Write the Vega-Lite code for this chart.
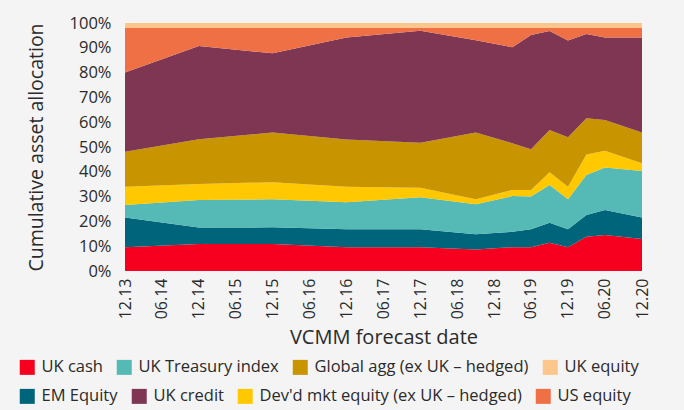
{
  "$schema": "https://vega.github.io/schema/vega-lite/v6.json",
  "width": 517,
  "height": 248,
  "autosize": {"type": "none"},
  "padding": {"left": 125, "top": 23, "right": 42, "bottom": 139},
  "background": "#f4f4f4",
  "config": {
    "view": {"stroke": null},
    "font": "Open Sans",
    "axis": {"labelColor": "#2a2a2a", "titleColor": "#2a2a2a", "titleFontWeight": "normal", "grid": false, "domain": false, "ticks": false},
    "legend": {"labelColor": "#2a2a2a"}
  },
  "data": {
    "values": [
      {"date": "2013-12-01", "series": "UK cash", "value": 9.6},
      {"date": "2013-12-01", "series": "EM Equity", "value": 12.0},
      {"date": "2013-12-01", "series": "UK Treasury index", "value": 5.0},
      {"date": "2013-12-01", "series": "Dev'd mkt equity (ex UK – hedged)", "value": 7.4},
      {"date": "2013-12-01", "series": "Global agg (ex UK – hedged)", "value": 14.1},
      {"date": "2013-12-01", "series": "UK credit", "value": 31.9},
      {"date": "2013-12-01", "series": "US equity", "value": 18.0},
      {"date": "2013-12-01", "series": "UK equity", "value": 2.0},

      {"date": "2014-12-01", "series": "UK cash", "value": 10.9},
      {"date": "2014-12-01", "series": "EM Equity", "value": 6.6},
      {"date": "2014-12-01", "series": "UK Treasury index", "value": 11.1},
      {"date": "2014-12-01", "series": "Dev'd mkt equity (ex UK – hedged)", "value": 6.5},
      {"date": "2014-12-01", "series": "Global agg (ex UK – hedged)", "value": 18.0},
      {"date": "2014-12-01", "series": "UK credit", "value": 37.6},
      {"date": "2014-12-01", "series": "US equity", "value": 7.3},
      {"date": "2014-12-01", "series": "UK equity", "value": 2.0},

      {"date": "2015-12-01", "series": "UK cash", "value": 10.9},
      {"date": "2015-12-01", "series": "EM Equity", "value": 6.7},
      {"date": "2015-12-01", "series": "UK Treasury index", "value": 11.3},
      {"date": "2015-12-01", "series": "Dev'd mkt equity (ex UK – hedged)", "value": 6.9},
      {"date": "2015-12-01", "series": "Global agg (ex UK – hedged)", "value": 20.0},
      {"date": "2015-12-01", "series": "UK credit", "value": 32.0},
      {"date": "2015-12-01", "series": "US equity", "value": 10.2},
      {"date": "2015-12-01", "series": "UK equity", "value": 2.0},

      {"date": "2016-12-01", "series": "UK cash", "value": 9.6},
      {"date": "2016-12-01", "series": "EM Equity", "value": 7.2},
      {"date": "2016-12-01", "series": "UK Treasury index", "value": 10.9},
      {"date": "2016-12-01", "series": "Dev'd mkt equity (ex UK – hedged)", "value": 6.3},
      {"date": "2016-12-01", "series": "Global agg (ex UK – hedged)", "value": 19.0},
      {"date": "2016-12-01", "series": "UK credit", "value": 41.2},
      {"date": "2016-12-01", "series": "US equity", "value": 3.8},
      {"date": "2016-12-01", "series": "UK equity", "value": 2.0},

      {"date": "2017-12-01", "series": "UK cash", "value": 9.6},
      {"date": "2017-12-01", "series": "EM Equity", "value": 7.2},
      {"date": "2017-12-01", "series": "UK Treasury index", "value": 12.9},
      {"date": "2017-12-01", "series": "Dev'd mkt equity (ex UK – hedged)", "value": 3.9},
      {"date": "2017-12-01", "series": "Global agg (ex UK – hedged)", "value": 18.1},
      {"date": "2017-12-01", "series": "UK credit", "value": 45.2},
      {"date": "2017-12-01", "series": "US equity", "value": 1.1},
      {"date": "2017-12-01", "series": "UK equity", "value": 2.0},

      {"date": "2018-09-01", "series": "UK cash", "value": 8.7},
      {"date": "2018-09-01", "series": "EM Equity", "value": 6.1},
      {"date": "2018-09-01", "series": "UK Treasury index", "value": 12.1},
      {"date": "2018-09-01", "series": "Dev'd mkt equity (ex UK – hedged)", "value": 2.0},
      {"date": "2018-09-01", "series": "Global agg (ex UK – hedged)", "value": 26.9},
      {"date": "2018-09-01", "series": "UK credit", "value": 37.2},
      {"date": "2018-09-01", "series": "US equity", "value": 5.0},
      {"date": "2018-09-01", "series": "UK equity", "value": 2.0},

      {"date": "2019-03-01", "series": "UK cash", "value": 9.6},
      {"date": "2019-03-01", "series": "EM Equity", "value": 6.2},
      {"date": "2019-03-01", "series": "UK Treasury index", "value": 14.4},
      {"date": "2019-03-01", "series": "Dev'd mkt equity (ex UK – hedged)", "value": 2.5},
      {"date": "2019-03-01", "series": "Global agg (ex UK – hedged)", "value": 18.8},
      {"date": "2019-03-01", "series": "UK credit", "value": 38.7},
      {"date": "2019-03-01", "series": "US equity", "value": 7.8},
      {"date": "2019-03-01", "series": "UK equity", "value": 2.0},

      {"date": "2019-06-01", "series": "UK cash", "value": 9.6},
      {"date": "2019-06-01", "series": "EM Equity", "value": 7.2},
      {"date": "2019-06-01", "series": "UK Treasury index", "value": 13.2},
      {"date": "2019-06-01", "series": "Dev'd mkt equity (ex UK – hedged)", "value": 2.7},
      {"date": "2019-06-01", "series": "Global agg (ex UK – hedged)", "value": 16.4},
      {"date": "2019-06-01", "series": "UK credit", "value": 46.1},
      {"date": "2019-06-01", "series": "US equity", "value": 2.8},
      {"date": "2019-06-01", "series": "UK equity", "value": 2.0},

      {"date": "2019-09-01", "series": "UK cash", "value": 11.4},
      {"date": "2019-09-01", "series": "EM Equity", "value": 8.1},
      {"date": "2019-09-01", "series": "UK Treasury index", "value": 15.2},
      {"date": "2019-09-01", "series": "Dev'd mkt equity (ex UK – hedged)", "value": 5.1},
      {"date": "2019-09-01", "series": "Global agg (ex UK – hedged)", "value": 17.1},
      {"date": "2019-09-01", "series": "UK credit", "value": 39.9},
      {"date": "2019-09-01", "series": "US equity", "value": 1.2},
      {"date": "2019-09-01", "series": "UK equity", "value": 2.0},

      {"date": "2019-12-01", "series": "UK cash", "value": 9.6},
      {"date": "2019-12-01", "series": "EM Equity", "value": 7.2},
      {"date": "2019-12-01", "series": "UK Treasury index", "value": 12.1},
      {"date": "2019-12-01", "series": "Dev'd mkt equity (ex UK – hedged)", "value": 5.1},
      {"date": "2019-12-01", "series": "Global agg (ex UK – hedged)", "value": 19.9},
      {"date": "2019-12-01", "series": "UK credit", "value": 39.0},
      {"date": "2019-12-01", "series": "US equity", "value": 5.1},
      {"date": "2019-12-01", "series": "UK equity", "value": 2.0},

      {"date": "2020-03-01", "series": "UK cash", "value": 13.8},
      {"date": "2020-03-01", "series": "EM Equity", "value": 8.8},
      {"date": "2020-03-01", "series": "UK Treasury index", "value": 16.1},
      {"date": "2020-03-01", "series": "Dev'd mkt equity (ex UK – hedged)", "value": 8.3},
      {"date": "2020-03-01", "series": "Global agg (ex UK – hedged)", "value": 14.6},
      {"date": "2020-03-01", "series": "UK credit", "value": 34.0},
      {"date": "2020-03-01", "series": "US equity", "value": 2.4},
      {"date": "2020-03-01", "series": "UK equity", "value": 2.0},

      {"date": "2020-06-01", "series": "UK cash", "value": 14.5},
      {"date": "2020-06-01", "series": "EM Equity", "value": 10.1},
      {"date": "2020-06-01", "series": "UK Treasury index", "value": 17.1},
      {"date": "2020-06-01", "series": "Dev'd mkt equity (ex UK – hedged)", "value": 6.8},
      {"date": "2020-06-01", "series": "Global agg (ex UK – hedged)", "value": 12.4},
      {"date": "2020-06-01", "series": "UK credit", "value": 33.3},
      {"date": "2020-06-01", "series": "US equity", "value": 3.8},
      {"date": "2020-06-01", "series": "UK equity", "value": 2.0},

      {"date": "2020-12-01", "series": "UK cash", "value": 12.9},
      {"date": "2020-12-01", "series": "EM Equity", "value": 8.7},
      {"date": "2020-12-01", "series": "UK Treasury index", "value": 18.7},
      {"date": "2020-12-01", "series": "Dev'd mkt equity (ex UK – hedged)", "value": 3.1},
      {"date": "2020-12-01", "series": "Global agg (ex UK – hedged)", "value": 12.4},
      {"date": "2020-12-01", "series": "UK credit", "value": 38.4},
      {"date": "2020-12-01", "series": "US equity", "value": 3.8},
      {"date": "2020-12-01", "series": "UK equity", "value": 2.0}
    ]
  },
  "transform": [
    {"calculate": "indexof([\"UK cash\", \"EM Equity\", \"UK Treasury index\", \"Dev'd mkt equity (ex UK – hedged)\", \"Global agg (ex UK – hedged)\", \"UK credit\", \"US equity\", \"UK equity\"], datum.series)", "as": "stackOrder"}
  ],
  "encoding": {
    "x": {
      "field": "date",
      "type": "temporal",
      "scale": {"type": "utc", "domain": [{"year": 2013, "month": 12, "date": 1, "utc": true}, {"year": 2020, "month": 12, "date": 1, "utc": true}]},
      "axis": {
        "title": "VCMM forecast date",
        "titleFontSize": 20,
        "titlePadding": 9,
        "labelExpr": "utcFormat(datum.value, '%m.%y')",
        "labelAngle": -90,
        "labelFontSize": 16,
        "labelPadding": 7,
        "labelOverlap": false,
        "labelFlush": false,
        "values": [
          {"year": 2013, "month": 12, "date": 1, "utc": true},
          {"year": 2014, "month": 6, "date": 1, "utc": true},
          {"year": 2014, "month": 12, "date": 1, "utc": true},
          {"year": 2015, "month": 6, "date": 1, "utc": true},
          {"year": 2015, "month": 12, "date": 1, "utc": true},
          {"year": 2016, "month": 6, "date": 1, "utc": true},
          {"year": 2016, "month": 12, "date": 1, "utc": true},
          {"year": 2017, "month": 6, "date": 1, "utc": true},
          {"year": 2017, "month": 12, "date": 1, "utc": true},
          {"year": 2018, "month": 6, "date": 1, "utc": true},
          {"year": 2018, "month": 12, "date": 1, "utc": true},
          {"year": 2019, "month": 6, "date": 1, "utc": true},
          {"year": 2019, "month": 12, "date": 1, "utc": true},
          {"year": 2020, "month": 6, "date": 1, "utc": true},
          {"year": 2020, "month": 12, "date": 1, "utc": true}
        ]
      }
    },
    "y": {
      "field": "value",
      "type": "quantitative",
      "stack": "zero",
      "scale": {"domain": [0, 100], "nice": false},
      "axis": {
        "title": "Cumulative asset allocation",
        "titleFontSize": 19.5,
        "titleX": -79,
        "titleY": 124,
        "titleAngle": -90,
        "titleAlign": "center",
        "titleBaseline": "bottom",
        "values": [0, 10, 20, 30, 40, 50, 60, 70, 80, 90, 100],
        "labelExpr": "datum.value + '%'",
        "labelFontSize": 16.5,
        "labelPadding": 14
      }
    },
    "order": {"field": "stackOrder", "type": "quantitative", "sort": "ascending"}
  },
  "layer": [
    {
      "mark": {"type": "area", "interpolate": "linear", "opacity": 1},
      "encoding": {
        "color": {
          "field": "series",
          "type": "nominal",
          "scale": {
            "domain": ["UK cash", "UK Treasury index", "Global agg (ex UK – hedged)", "UK equity", "EM Equity", "UK credit", "Dev'd mkt equity (ex UK – hedged)", "US equity"],
            "range": ["#f7001f", "#55b9b5", "#c89400", "#fcc68d", "#00657a", "#7e3652", "#ffc800", "#f07045"]
          },
          "legend": {
            "title": null,
            "orient": "none",
            "legendX": -106,
            "legendY": 336,
            "direction": "horizontal",
            "values": ["UK cash", "UK Treasury index", "Global agg (ex UK – hedged)", "UK equity"],
            "symbolType": "square",
            "symbolSize": 225,
            "symbolStrokeWidth": 0,
            "symbolOpacity": 1,
            "labelFontSize": 16.5,
            "labelOffset": 6,
            "columnPadding": 13,
            "labelLimit": 400
          }
        }
      }
    },
    {
      "mark": {"type": "area", "interpolate": "linear", "opacity": 0},
      "encoding": {
        "fill": {
          "field": "series",
          "type": "nominal",
          "scale": {
            "domain": ["UK cash", "UK Treasury index", "Global agg (ex UK – hedged)", "UK equity", "EM Equity", "UK credit", "Dev'd mkt equity (ex UK – hedged)", "US equity"],
            "range": ["#f7001f", "#55b9b5", "#c89400", "#fcc68d", "#00657a", "#7e3652", "#ffc800", "#f07045"]
          },
          "legend": {
            "title": null,
            "orient": "none",
            "legendX": -106,
            "legendY": 365,
            "direction": "horizontal",
            "values": ["EM Equity", "UK credit", "Dev'd mkt equity (ex UK – hedged)", "US equity"],
            "symbolType": "square",
            "symbolSize": 225,
            "symbolStrokeWidth": 0,
            "symbolOpacity": 1,
            "labelFontSize": 16.5,
            "labelOffset": 6,
            "columnPadding": 13,
            "labelLimit": 400
          }
        }
      }
    }
  ],
  "resolve": {"scale": {"color": "independent", "fill": "independent"}, "legend": {"color": "independent", "fill": "independent"}}
}
